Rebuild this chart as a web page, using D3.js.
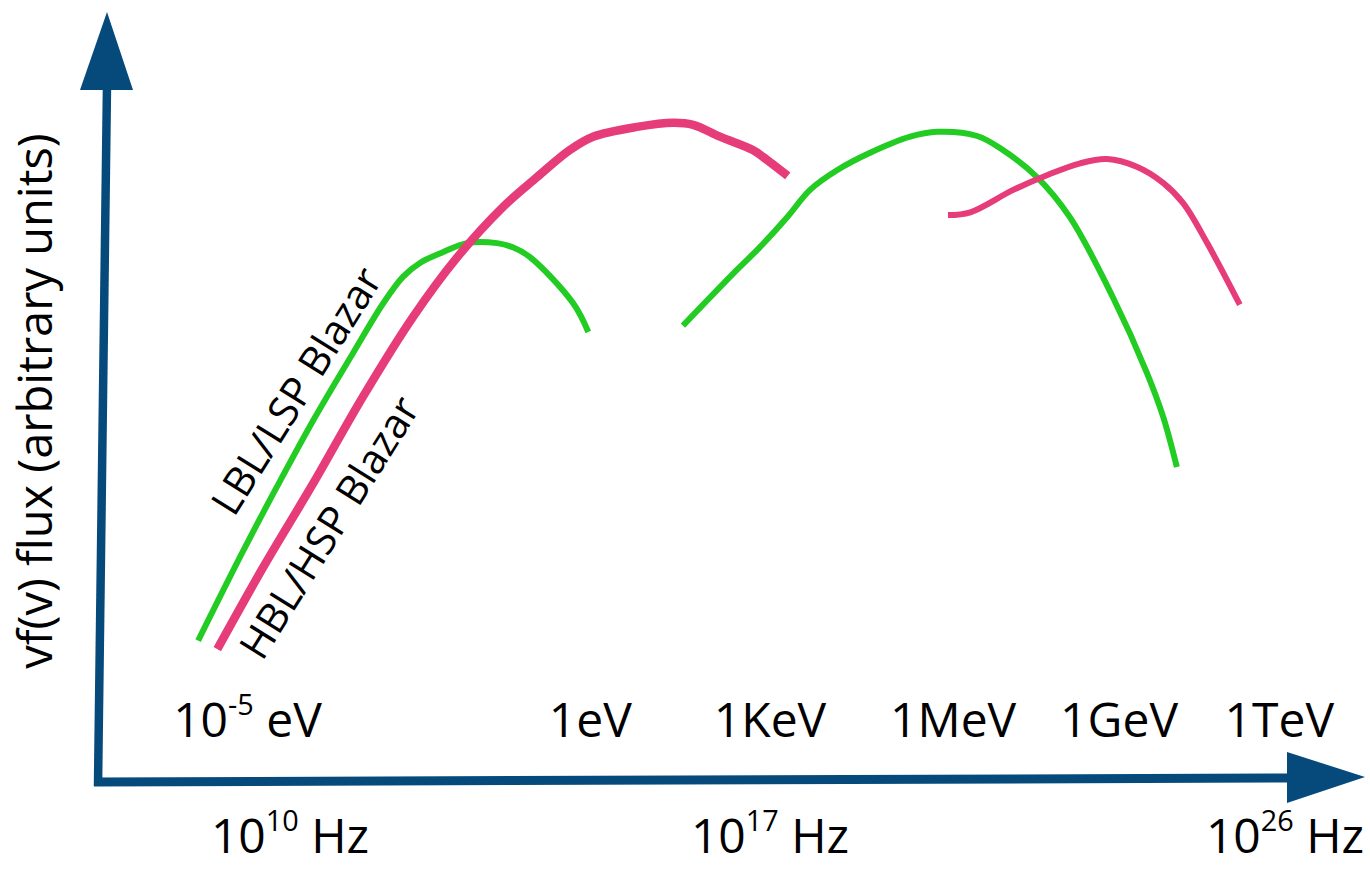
<!DOCTYPE html>
<html>
<head>
<meta charset="utf-8">
<script src="https://cdn.jsdelivr.net/npm/d3@7"></script>
<style>
  html, body { margin: 0; padding: 0; background: #fff; }
  text { font-family: "Open Sans", "DejaVu Sans", sans-serif; fill: #000; }
</style>
</head>
<body>
<div id="chart"></div>
<script>
// x values are log10(frequency / Hz), y values are flux in arbitrary units (0-10)
var freqLabels = ["10^10 Hz", "10^17 Hz", "10^26 Hz"];
var freqPos = [10, 17, 26];

var energyLabels = ["10^-5 eV", "1eV", "1KeV", "1MeV", "1GeV", "1TeV"];
var energyPos = [9.38, 14.38, 17.0, 20.2, 23.1, 25.9];

// LBL / LSP blazar, synchrotron hump
var lblSync = [[8.66,1.99],[9.30,3.24],[9.81,4.19],[10.34,5.14],[10.92,6.10],[11.36,6.81],
    [11.65,7.19],[11.90,7.39],[12.23,7.54],[12.58,7.67],[13.02,7.67],
    [13.25,7.61],[13.50,7.47],[14.13,6.81],[14.35,6.40]];
// LBL / LSP blazar, inverse Compton hump
var lblIC = [[15.73,6.49],[16.52,7.29],[16.85,7.61],[17.30,8.04],[17.70,8.43],[18.17,8.71],
    [18.75,8.96],[19.45,9.19],[19.92,9.26],[20.62,9.20],[21.07,9.00],[21.67,8.61],
    [22.24,8.04],[22.99,6.90],[23.59,5.81],[23.87,5.19],[24.11,4.47]];
// HBL / HSP blazar, synchrotron hump
var hblSync = [[8.94,1.87],[9.61,3.04],[10.34,4.24],[11.06,5.47],[11.79,6.61],[12.44,7.47],
    [13.11,8.19],[13.60,8.61],[14.08,9.00],[14.42,9.19],[15.06,9.33],[15.59,9.39],
    [15.88,9.36],[16.27,9.19],[16.75,9.00],[16.90,8.90],[17.31,8.63]];
// HBL / HSP blazar, inverse Compton hump
var hblIC = [[20.11,8.07],[20.50,8.11],[21.25,8.43],[21.84,8.64],[22.42,8.81],[22.89,8.87],
    [23.41,8.76],[23.87,8.53],[24.22,8.24],[24.64,7.67],[25.21,6.79]];

var seriesNames = ["LBL/LSP Blazar", "HBL/HSP Blazar"];
var seriesLabelPos = [[10.09, 5.56], [10.57, 3.61]];

var width = 1370, height = 874;
var axisColor = "#064a7b";
var green = "#22cc22", pink = "#e63c7a";

var svg = d3.select("#chart").append("svg")
    .attr("width", width)
    .attr("height", height);

var x = d3.scaleLinear().domain([10, 17, 26]).range([290, 770, 1285]);
var y = d3.scaleLinear().domain([0, 10]).range([780, 80]);

// axes with arrow heads
svg.append("line")
    .attr("x1", 98).attr("y1", 786)
    .attr("x2", 107).attr("y2", 85)
    .attr("stroke", axisColor).attr("stroke-width", 8.5);
svg.append("path")
    .attr("d", "M107,12 L80,90 L133,90 Z")
    .attr("fill", axisColor);
svg.append("line")
    .attr("x1", 94).attr("y1", 782)
    .attr("x2", 1292).attr("y2", 778)
    .attr("stroke", axisColor).attr("stroke-width", 9);
svg.append("path")
    .attr("d", "M1365,777 L1287,752 L1287,803 Z")
    .attr("fill", axisColor);

// y axis title
svg.append("text")
    .attr("transform", "translate(52,401) rotate(-90)")
    .attr("text-anchor", "middle")
    .style("font-size", "47px")
    .text("vf(v) flux (arbitrary units)");

function addLabel(str, px, py, size){
    var t = svg.append("text")
        .attr("x", px).attr("y", py)
        .attr("text-anchor", "middle")
        .style("font-size", size + "px");
    var m = str.match(/^(\d+)\^(\S+)(.*)$/);
    if(m){
        t.append("tspan").text(m[1]);
        t.append("tspan").attr("dy", -22).style("font-size", (size * 0.6) + "px").text(m[2]);
        t.append("tspan").attr("dy", 22).text(m[3].replace(" ", "\u00a0"));
    } else {
        t.text(str);
    }
}

energyLabels.forEach(function(d, i){ addLabel(d, x(energyPos[i]), 737, 48); });
freqLabels.forEach(function(d, i){ addLabel(d, x(freqPos[i]), 853, 48); });

// spectra
var line = d3.line()
    .x(function(d){ return x(d[0]); })
    .y(function(d){ return y(d[1]); })
    .curve(d3.curveCatmullRom.alpha(0.5));

function drawCurve(data, color, w){
    svg.append("path")
        .datum(data)
        .attr("d", line)
        .attr("fill", "none")
        .attr("stroke", color)
        .attr("stroke-width", w);
}
drawCurve(lblSync, green, 6);
drawCurve(lblIC, green, 6);
drawCurve(hblSync, pink, 8.5);
drawCurve(hblIC, pink, 6);

// rotated series names along the rising edges
seriesNames.forEach(function(name, i){
    var p = seriesLabelPos[i];
    svg.append("text")
        .attr("transform", "translate(" + x(p[0]) + "," + y(p[1]) + ") rotate(-58)")
        .attr("text-anchor", "middle")
        .attr("dy", "0.36em")
        .style("font-size", "41px")
        .text(name);
});
</script>
</body>
</html>
